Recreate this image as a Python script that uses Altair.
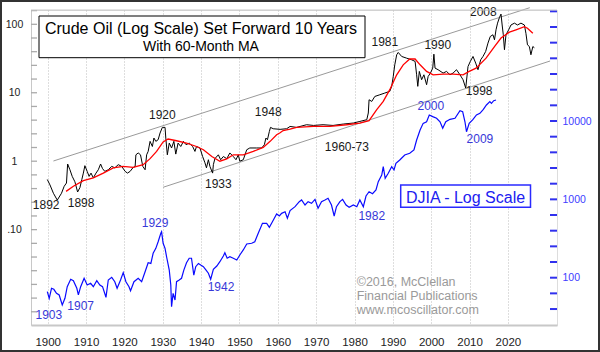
import altair as alt
import pandas as pd

# ---------------- data ----------------
# Crude oil, real dates (plotted 10 years forward)
crude_year = [1889.9, 1890.6, 1891.5, 1892.5, 1893.0, 1893.6, 1894.3, 1894.9, 1895.2, 1895.8,
              1896.4, 1897.1, 1897.8, 1898.4, 1898.9, 1899.3, 1899.7, 1900.3, 1900.8, 1901.3,
              1901.9, 1902.6, 1903.2, 1903.8, 1904.3, 1904.9, 1905.8, 1906.7, 1907.5, 1908.4,
              1909.3, 1910.2, 1910.8, 1911.5, 1912.2, 1912.8, 1913.0, 1913.6, 1914.2, 1914.8,
              1915.4, 1915.8, 1916.2, 1916.7, 1917.3, 1917.7, 1918.2, 1918.8, 1919.3, 1919.9,
              1920.6, 1920.8, 1921.2, 1921.7, 1922.3, 1922.9, 1923.4, 1924.0, 1924.7, 1925.4,
              1926.1, 1926.9, 1927.8, 1928.4, 1928.8, 1929.7, 1930.4, 1931.0, 1931.4, 1931.9,
              1932.3, 1933.0, 1933.2, 1933.6, 1934.5, 1935.1, 1935.8, 1936.7, 1937.5, 1938.4,
              1939.1, 1939.7, 1940.1, 1941.0, 1941.9, 1942.7, 1944.5, 1945.8, 1946.5, 1946.9,
              1947.3, 1947.8, 1948.1, 1948.8, 1950.6, 1952.3, 1953.2, 1954.9, 1957.5, 1959.3,
              1961.8, 1964.4, 1967.1, 1969.7, 1971.4, 1973.2, 1973.6, 1973.8, 1974.5, 1975.3,
              1976.6, 1977.9, 1979.2, 1979.7, 1980.1, 1980.5, 1981.0, 1981.4, 1982.3, 1983.6,
              1984.9, 1985.8, 1986.2, 1986.5, 1986.9, 1987.5, 1988.1, 1988.8, 1989.2, 1989.8,
              1990.4, 1990.7, 1991.0, 1991.8, 1993.1, 1994.0, 1994.9, 1995.7, 1996.6, 1997.5,
              1998.3, 1999.0, 1999.6, 2000.2, 2000.9, 2001.6, 2002.2, 2002.9, 2003.5, 2004.2,
              2004.8, 2005.4, 2006.1, 2006.5, 2006.9, 2007.3, 2007.8, 2008.2, 2008.5, 2008.8,
              2009.1, 2009.5, 2010.2, 2010.8, 2011.7, 2012.5, 2013.4, 2014.3, 2014.7, 2015.1,
              2015.6, 2016.0, 2016.5, 2016.9]
crude_price = [0.54, 0.45, 0.34, 0.27, 0.30, 0.34, 0.43, 0.48, 0.91, 0.75,
               0.60, 0.50, 0.355, 0.41, 0.54, 0.67, 0.86, 0.71, 0.60, 0.67,
               0.57, 0.67, 0.75, 0.91, 0.78, 0.71, 0.75, 0.84, 0.80, 0.89,
               0.84, 0.71, 0.67, 0.71, 0.80, 0.84, 1.24, 1.32, 1.24, 0.84,
               0.75, 1.24, 1.39, 1.95, 1.64, 2.18, 1.95, 2.06, 2.58, 3.12,
               3.12, 2.18, 1.24, 1.84, 1.56, 1.95, 1.27, 1.84, 1.64, 1.95,
               1.74, 1.84, 1.64, 1.39, 1.64, 1.56, 1.17, 0.95, 0.80, 1.05,
               0.84, 0.67, 0.89, 1.09, 1.24, 1.05, 1.17, 1.09, 1.32, 1.17,
               1.05, 1.24, 1.00, 1.05, 1.47, 1.56, 1.56, 1.56, 1.74, 2.18,
               2.06, 2.72, 3.12, 2.98, 2.92, 2.98, 3.22, 3.12, 3.41, 3.33,
               3.41, 3.33, 3.49, 3.61, 3.81, 4.04, 5.06, 7.9, 7.47, 8.83,
               9.35, 9.9, 10.5, 12.4, 17.3, 25.6, 35.9, 38.8, 33.9, 32.0,
               30.3, 28.7, 18.3, 12.4, 20.5, 15.5, 18.3, 13.1, 17.3, 19.4,
               22.9, 36.6, 22.9, 21.7, 19.4, 20.5, 18.3, 19.4, 21.7, 18.3,
               15.5, 11.7, 24.2, 28.7, 33.9, 27.1, 21.7, 30.3, 33.9, 40.1,
               53.1, 66.4, 70.3, 59.4, 83.2, 104, 126, 141, 97.7, 70.3,
               42.5, 70.3, 83.2, 97.7, 104, 97.7, 104, 97.7, 73.8, 50.1,
               47.3, 35.9, 47.3, 45.5]

# 60-month moving average of crude, real dates
ma_year = [1894.8, 1896.7, 1899.3, 1901.9, 1904.5, 1907.1, 1909.7, 1912.3, 1914.9, 1916.7,
           1918.4, 1920.1, 1921.4, 1923.6, 1926.2, 1928.8, 1930.6, 1932.8, 1934.9, 1936.7,
           1938.4, 1941.0, 1943.6, 1946.2, 1948.0, 1949.7, 1950.6, 1951.4, 1953.2, 1954.9,
           1959.3, 1963.6, 1967.9, 1971.4, 1973.8, 1975.8, 1977.5, 1979.2, 1981.0, 1982.7,
           1984.4, 1985.8, 1987.1, 1988.8, 1990.5, 1993.1, 1995.7, 1998.3, 1999.9, 2001.7,
           2004.3, 2006.5, 2008.2, 2010.4, 2012.1, 2014.3, 2015.1, 2016.5]
ma_price = [0.362, 0.43, 0.519, 0.57, 0.67, 0.80, 0.84, 0.81, 0.89, 1.09,
            1.39, 1.91, 2.11, 1.99, 1.84, 1.64, 1.47, 1.17, 1.00, 1.08,
            1.24, 1.24, 1.39, 1.59, 1.95, 2.44, 2.6, 2.8, 2.95, 3.12,
            3.22, 3.22, 3.41, 3.61, 3.9, 5.65, 7.47, 11.1, 18.3, 25.6,
            31.1, 31.1, 25.6, 20.5, 18.3, 18.7, 18.7, 18.3, 20.5, 22.9,
            32.0, 47.3, 63.0, 76.9, 83.2, 92.3, 87.5, 73.8]

# DJIA
djia_year = [1899.9, 1900.4, 1901.0, 1901.6, 1902.3, 1903.0, 1903.8, 1904.5, 1905.1, 1906.0,
             1906.7, 1907.6, 1908.0, 1908.6, 1909.5, 1910.3, 1911.2, 1911.9, 1912.8, 1913.6,
             1914.3, 1915.2, 1915.8, 1916.7, 1917.5, 1918.1, 1919.0, 1919.7, 1920.4, 1921.2,
             1921.6, 1922.5, 1923.6, 1924.5, 1925.4, 1926.2, 1926.9, 1927.5, 1928.2, 1928.8,
             1929.5, 1929.7, 1930.1, 1930.6, 1931.0, 1931.7, 1932.1, 1932.3, 1932.7, 1933.2,
             1933.6, 1934.3, 1934.9, 1935.5, 1936.2, 1936.9, 1937.5, 1938.1, 1938.6, 1939.3,
             1939.9, 1940.6, 1941.3, 1941.9, 1942.5, 1943.2, 1944.1, 1944.9, 1945.8, 1946.2,
             1946.8, 1947.5, 1948.4, 1949.3, 1950.1, 1951.0, 1951.9, 1953.2, 1954.0, 1954.9,
             1956.0, 1957.1, 1957.8, 1958.6, 1959.7, 1960.4, 1961.0, 1961.9, 1962.5, 1963.2,
             1964.5, 1965.6, 1966.2, 1967.1, 1967.9, 1968.8, 1969.7, 1970.5, 1971.4, 1972.3,
             1973.1, 1974.0, 1974.7, 1975.3, 1976.2, 1976.9, 1977.8, 1978.6, 1979.7, 1980.6,
             1981.4, 1982.3, 1983.0, 1983.8, 1984.7, 1985.6, 1986.2, 1987.1, 1987.5, 1988.0,
             1988.8, 1989.7, 1990.3, 1990.8, 1991.8, 1993.1, 1994.4, 1995.5, 1996.2, 1997.1,
             1997.9, 1998.8, 1999.5, 2000.4, 2001.4, 2002.3, 2003.0, 2003.8, 2004.9, 2006.2,
             2007.5, 2008.2, 2008.8, 2009.2, 2009.9, 2010.8, 2011.8, 2012.7, 2013.6, 2014.4,
             2015.3, 2015.7, 2016.3, 2016.9]
djia_value = [66.3, 54.6, 73.2, 71.1, 63.2, 60.2, 44.8, 54.6, 76.8, 95.5,
              91.6, 73.2, 60.2, 76.8, 98.3, 80.7, 84.9, 76.8, 91.6, 80.7,
              76.8, 56.2, 93.4, 101, 88.9, 73.2, 93.4, 116, 88.9, 76.8,
              68.2, 88.9, 98.3, 88.9, 119, 155, 152, 205, 237, 288,
              369, 386, 275, 237, 185, 125, 80.7, 42.7, 63.2, 51.9,
              88.9, 93.4, 98.3, 125, 155, 177, 177, 108, 138, 152,
              145, 138, 125, 114, 95.5, 128, 141, 160, 189, 208,
              177, 185, 177, 168, 195, 226, 269, 275, 288, 369,
              494, 494, 440, 518, 650, 613, 663, 695, 573, 720,
              806, 934, 982, 847, 934, 891, 1000, 769, 934, 982,
              1030, 847, 613, 806, 934, 1000, 847, 792, 847, 806,
              982, 806, 1104, 1253, 1180, 1315, 1680, 2046, 2612, 1857,
              2153, 2612, 2370, 2884, 3178, 3680, 3870, 4270, 5720, 7670,
              9330, 9780, 11930, 11360, 10820, 9780, 8070, 9780, 10510, 10820,
              13550, 13170, 9780, 7290, 9330, 10310, 11930, 12530, 14100, 16000,
              17640, 16800, 18160, 18540]

# Channel lines (plotted dates, crude scale)
channel_name = ["upper", "upper", "lower", "lower"]
channel_year = [1901.5, 2025.7, 1930.1, 2031.0]
channel_value = [1.007, 174.8, 0.416, 29.1]

# Annotations
crude_lab_text = ["1892", "1898", "1920", "1933", "1948", "1960-73", "1981", "1990", "2008", "1998"]
crude_lab_year = [1899.6, 1908.7, 1929.9, 1944.5, 1957.5, 1978.0, 1987.9, 2001.7, 2013.6, 2012.5]
crude_lab_value = [0.229, 0.248, 4.73, 0.46, 5.18, 1.60, 55.7, 49.9, 149.7, 10.6]

djia_lab_text = ["1903", "1907", "1929", "1942", "1982", "2000", "2009"]
djia_lab_year = [1900.3, 1908.6, 1928.0, 1945.2, 1984.5, 1999.9, 2012.7]
djia_lab_value = [33.4, 44.0, 494, 75.4, 613, 15540, 5840]

x_ticks = list(range(1900, 2021, 10))
left_labels = [0.1, 1, 10, 100]
right_labels = [100, 1000, 10000]
left_minor = [10 ** (k / 5) for k in range(-11, 12)]
right_minor = [10 ** (k / 5) for k in range(8, 28)]

# ---------------- chart ----------------
FONT = "Liberation Sans"
W, H = 526, 315
BLUE = "#0a0aff"
BLUE_TXT = "#3838d8"

xs = alt.Scale(domain=[1895.65, 2032.8], nice=False, zero=False)
ycs = alt.Scale(type="log", domain=[0.004045, 161.8], nice=False)
yds = alt.Scale(type="log", domain=[24.9, 261100], nice=False)

x_axis = alt.Axis(values=x_ticks, format="d", title=None, grid=True, gridColor="#bdbdbd",
                  gridDash=[1, 2], gridWidth=1, domainColor="#c8c8c8", domainWidth=2,
                  ticks=True, tickSize=0, labelPadding=11, labelFontSize=11.5,
                  labelColor="#222", labelFont=FONT, labelFlush=False)
yc_axis = alt.Axis(orient="left", values=left_labels, title=None, grid=False,
                   labelExpr="datum.value < 0.5 ? '.10' : format(datum.value, 'd')",
                   domainColor="#c8c8c8", domainWidth=1, ticks=True, tickSize=0,
                   labelPadding=17, labelAlign="center", labelBaseline="middle",
                   labelFontSize=10.5, labelColor="#222", labelFont=FONT, labelOverlap=False)
yd_axis = alt.Axis(orient="right", values=right_labels, format="d", title=None, grid=False,
                   domain=False, ticks=True, tickSize=0, labelPadding=5, labelAlign="left",
                   labelBaseline="middle", labelFontSize=10.5, labelColor="#4040ff",
                   labelFont=FONT, labelOverlap=False)

X = lambda f: alt.X(f, type="quantitative", scale=xs, axis=x_axis)
YC = lambda f: alt.Y(f, type="quantitative", scale=ycs, axis=yc_axis)
YD = lambda f: alt.Y(f, type="quantitative", scale=yds, axis=yd_axis)

crude_df = pd.DataFrame({"real": crude_year, "price": crude_price})
ma_df = pd.DataFrame({"real": ma_year, "price": ma_price})
djia_df = pd.DataFrame({"year": djia_year, "value": djia_value})
chan_df = pd.DataFrame({"line": channel_name, "year": channel_year, "value": channel_value})
clab_df = pd.DataFrame({"t": crude_lab_text, "year": crude_lab_year, "value": crude_lab_value})
dlab_df = pd.DataFrame({"t": djia_lab_text, "year": djia_lab_year, "value": djia_lab_value})
lmin_df = pd.DataFrame({"v": left_minor})
rmin_df = pd.DataFrame({"v": right_minor})
one = pd.DataFrame({"a": [0]})

channel = alt.Chart(chan_df).mark_line(color="#9a9a9a", strokeWidth=1).encode(
    x=X("year"), y=YC("value"), detail="line:N")
crude = alt.Chart(crude_df).transform_calculate(year="datum.real + 10").mark_line(
    color="#000000", strokeWidth=1).encode(x=X("year"), y=YC("price"))
ma = alt.Chart(ma_df).transform_calculate(year="datum.real + 10").mark_line(
    color="#ff0000", strokeWidth=1.3).encode(x=X("year"), y=YC("price"))
lticks = alt.Chart(lmin_df).mark_rule(color="#aaaaaa", strokeWidth=1.3).encode(
    x=alt.value(0), x2=alt.value(6), y=YC("v"))
clabs = alt.Chart(clab_df).mark_text(font=FONT, fontSize=12, color="#1a1a1a",
                                     align="center", baseline="middle").encode(
    x=X("year"), y=YC("value"), text="t:N")
crude_group = alt.layer(channel, lticks, crude, ma, clabs)

djia = alt.Chart(djia_df).mark_line(color=BLUE, strokeWidth=1.2).encode(
    x=X("year"), y=YD("value"))
rticks = alt.Chart(rmin_df).mark_rule(color="#3030ee", strokeWidth=2).encode(
    x=alt.value(519), x2=alt.value(526), y=YD("v"))
dlabs = alt.Chart(dlab_df).mark_text(font=FONT, fontSize=12, color=BLUE_TXT,
                                     align="center", baseline="middle").encode(
    x=X("year"), y=YD("value"), text="t:N")
djia_group = alt.layer(rticks, djia, dlabs)

base = alt.Chart(one)
top_line = base.mark_rule(color="#c8c8c8", strokeWidth=1).encode(
    x=alt.value(0), x2=alt.value(W), y=alt.value(0))
title_box = base.mark_rect(fill="white", stroke="#000000", strokeWidth=1).encode(
    x=alt.value(8), x2=alt.value(334), y=alt.value(6), y2=alt.value(47.7))
title1 = base.mark_text(text="Crude Oil (Log Scale) Set Forward 10 Years", font=FONT,
                        fontSize=16, color="#000", align="center", baseline="middle").encode(
    x=alt.value(170), y=alt.value(18.8))
title2 = base.mark_text(text="With 60-Month MA", font=FONT, fontSize=14, color="#000",
                        align="center", baseline="middle").encode(
    x=alt.value(170), y=alt.value(37.3))
djia_box = base.mark_rect(fill="white", stroke="#2a2aff", strokeWidth=1.5).encode(
    x=alt.value(369.7), x2=alt.value(499.5), y=alt.value(175), y2=alt.value(197.3))
djia_txt = base.mark_text(text="DJIA - Log Scale", font=FONT, fontSize=16, color="#2020f0",
                          align="center", baseline="middle").encode(
    x=alt.value(434.5), y=alt.value(188.3))
copy_txt = base.mark_text(text=["\u00a92016, McClellan", "Financial Publications",
                                "www.mcoscillator.com"],
                          font=FONT, fontSize=12.5, color="#9a9a9a", align="left",
                          baseline="middle", lineHeight=14.2).encode(
    x=alt.value(325.7), y=alt.value(271.5))
frame = base.mark_rect(fill=None, stroke="#333333", strokeWidth=2).encode(
    x=alt.value(-30), x2=alt.value(568), y=alt.value(-9), y2=alt.value(341))
deco = alt.layer(top_line, title_box, title1, title2, djia_box, djia_txt, copy_txt, frame)

chart = alt.layer(crude_group, djia_group, deco).resolve_scale(
    y="independent").resolve_axis(y="independent").properties(
    width=W, height=H,
    autosize=alt.AutoSizeParams(type="none"),
    padding={"left": 31, "top": 10, "right": 43, "bottom": 27},
    background="white",
).configure_view(stroke=None).configure(font=FONT)

chart.save("out.html", embed_options={"renderer": "svg", "actions": False})
